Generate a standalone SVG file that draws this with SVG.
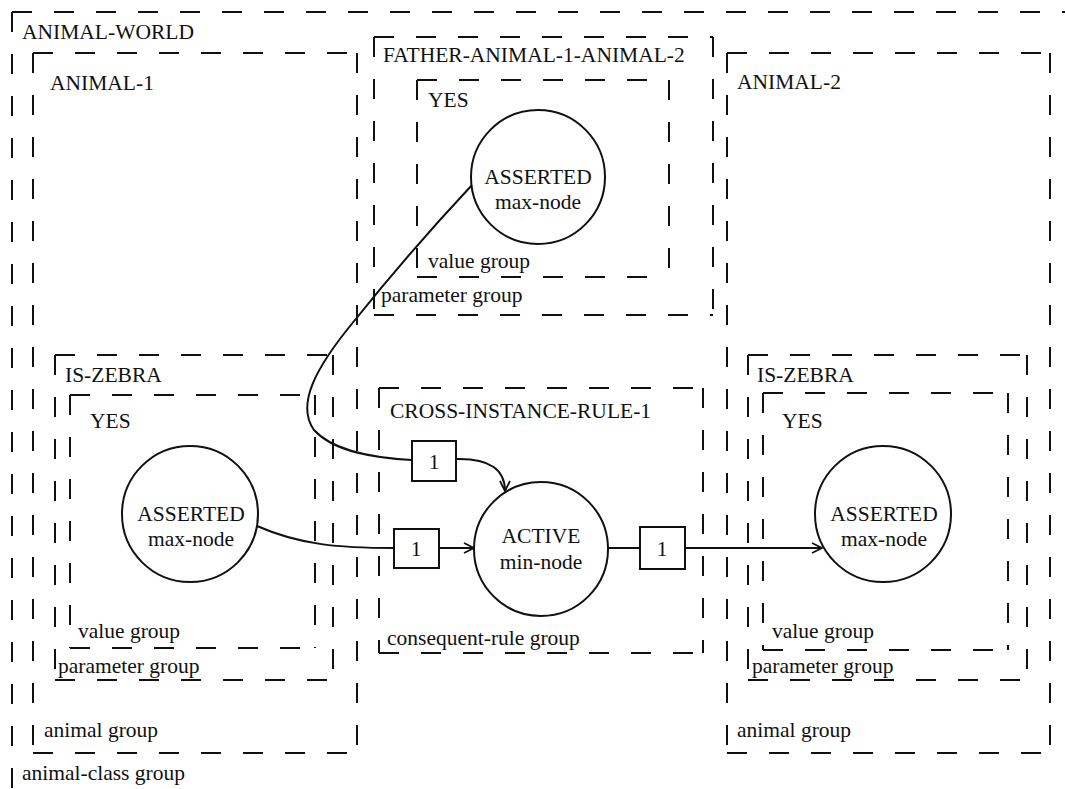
<svg xmlns="http://www.w3.org/2000/svg" width="1065" height="789" viewBox="0 0 1065 789">
<defs>
<style>
.box{fill:none;stroke:#111;stroke-width:2;stroke-dasharray:20 22}
.node{fill:#fff;stroke:#111;stroke-width:2}
.lbl{font-family:"Liberation Serif","Times New Roman",serif;font-size:21.5px;fill:#111}
.ctr{text-anchor:middle}
.edge{fill:none;stroke:#111;stroke-width:2}
.wbox{fill:#fff;stroke:#111;stroke-width:2}
</style>
<marker id="arr" viewBox="0 0 12 12" refX="11" refY="6" markerWidth="12" markerHeight="12" markerUnits="userSpaceOnUse" orient="auto">
<path d="M1,1 L11,6 L1,11" fill="none" stroke="#111" stroke-width="1.8"/>
</marker>
</defs>
<rect width="1065" height="789" fill="#fff"/>

<g id="animal-world">
<path class="box" d="M12 12 H1070 M12 12 V800"/>
<text class="lbl" x="22" y="39">ANIMAL-WORLD</text>
<text class="lbl" x="22" y="780">animal-class group</text>
</g>

<g id="animal-1">
<path class="box" d="M33 53 H357 M33 53 V753 M33 753 H357 M357 53 V753"/>
<text class="lbl" x="50" y="90">ANIMAL-1</text>
<text class="lbl" x="44" y="737">animal group</text>
</g>

<g id="father-animal-1-animal-2">
<path class="box" d="M374 37 H713 M374 37 V315 M374 315 H713 M713 37 V315"/>
<text class="lbl" x="383" y="62">FATHER-ANIMAL-1-ANIMAL-2</text>
<text class="lbl" x="381" y="302">parameter group</text>
</g>

<g id="father-yes">
<path class="box" d="M417 80 H669 M417 80 V277 M417 277 H669 M669 80 V277"/>
<text class="lbl" x="428" y="107">YES</text>
<text class="lbl" x="428" y="268">value group</text>
</g>

<g id="father-asserted">
<circle class="node" cx="538" cy="177" r="67"/>
<text class="lbl ctr" x="538" y="184">ASSERTED</text>
<text class="lbl ctr" x="538" y="209">max-node</text>
</g>

<g id="animal-2">
<path class="box" d="M727 53 H1050 M727 53 V753 M727 753 H1050 M1050 53 V753"/>
<text class="lbl" x="737" y="89">ANIMAL-2</text>
<text class="lbl" x="737" y="737">animal group</text>
</g>

<g id="is-zebra-1">
<path class="box" d="M55 355 H333 M55 355 V680 M55 680 H333 M333 355 V680"/>
<text class="lbl" x="65" y="382">IS-ZEBRA</text>
<text class="lbl" x="58" y="673">parameter group</text>
</g>

<g id="yes-1">
<path class="box" d="M70 395 H315 M70 395 V648 M70 648 H315 M315 395 V648"/>
<text class="lbl" x="90" y="428">YES</text>
<text class="lbl" x="78" y="638">value group</text>
</g>

<g id="asserted-1">
<circle class="node" cx="190" cy="514" r="68"/>
<text class="lbl ctr" x="191" y="521">ASSERTED</text>
<text class="lbl ctr" x="191" y="546">max-node</text>
</g>

<g id="cross-instance-rule-1">
<path class="box" d="M379 388 H703 M379 388 V653 M379 653 H703 M703 388 V653"/>
<text class="lbl" x="390" y="418">CROSS-INSTANCE-RULE-1</text>
<text class="lbl" x="387" y="645">consequent-rule group</text>
</g>

<g id="is-zebra-2">
<path class="box" d="M748 355 H1027 M748 355 V680 M748 680 H1027 M1027 355 V680"/>
<text class="lbl" x="757" y="382">IS-ZEBRA</text>
<text class="lbl" x="752" y="673">parameter group</text>
</g>

<g id="yes-2">
<path class="box" d="M763 393 H1008 M763 393 V650 M763 650 H1008 M1008 393 V650"/>
<text class="lbl" x="782" y="428">YES</text>
<text class="lbl" x="772" y="638">value group</text>
</g>

<g id="asserted-2">
<circle class="node" cx="883" cy="514" r="68"/>
<text class="lbl ctr" x="884" y="521">ASSERTED</text>
<text class="lbl ctr" x="884" y="546">max-node</text>
</g>

<g id="connectors">
<path class="edge" d="M472 185 C430 230 395 270 355 320 C315 368 296 405 314 430 C334 452 375 458 412 460"/>
<path class="edge" d="M456 459 C490 458 505 470 505 491" marker-end="url(#arr)"/>
<path class="edge" d="M257 526 C300 545 340 548 394 548"/>
<path class="edge" d="M439 548 L474 548" marker-end="url(#arr)"/>
<path class="edge" d="M608 548 L640 548"/>
<path class="edge" d="M685 548 L822 548" marker-end="url(#arr)"/>
</g>

<g id="active">
<circle class="node" cx="541" cy="549" r="67"/>
<text class="lbl ctr" x="541" y="543">ACTIVE</text>
<text class="lbl ctr" x="541" y="569">min-node</text>
</g>

<g id="weight-1">
<rect class="wbox" x="412" y="441" width="44" height="40"/>
<text class="lbl ctr" x="434" y="469">1</text>
</g>
<g id="weight-2">
<rect class="wbox" x="394" y="529" width="45" height="39"/>
<text class="lbl ctr" x="416" y="556">1</text>
</g>
<g id="weight-3">
<rect class="wbox" x="640" y="527" width="45" height="42"/>
<text class="lbl ctr" x="662" y="556">1</text>
</g>
</svg>
